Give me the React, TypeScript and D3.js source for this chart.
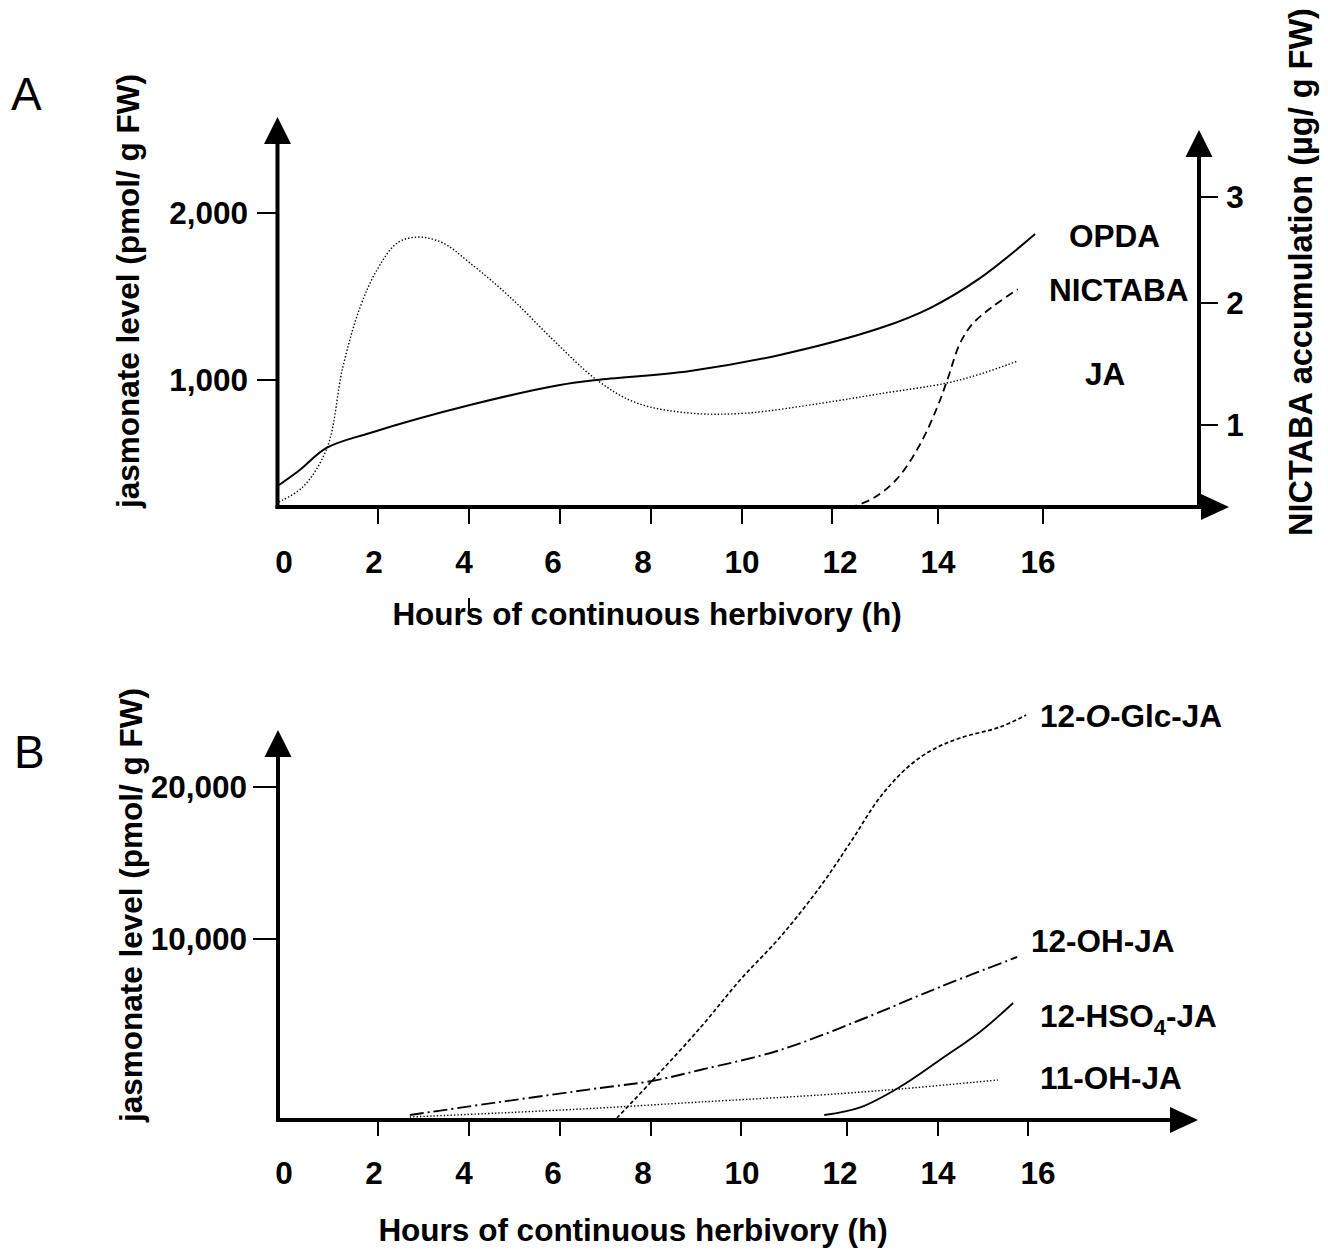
import React from 'react';
import * as d3 from 'd3';

// ---------- data ----------
const hourTicks = [2, 4, 6, 8, 10, 12, 14, 16];
const hourLabels = [0, 2, 4, 6, 8, 10, 12, 14, 16];

const aLeftTicks = [1000, 2000];
const aRightTicks = [1, 2, 3];
const bLeftTicks = [10000, 20000];

// Panel A (left axis, pmol/g FW)
const opdaHours = [0, 0.42, 0.96, 1.84, 4.02, 6, 6.81, 8.86, 10.84, 12.91, 13.85, 14.8, 15.85];
const opdaValues = [371, 461, 593, 683, 850, 970, 1000, 1054, 1150, 1311, 1431, 1610, 1874];

const jaHours = [0, 0.48, 0.97, 1.29, 1.64, 1.98, 2.42, 2.88, 3.43, 4.02, 4.9, 5.85, 6.81, 7.69, 8.86, 10.1, 11.79, 12.91, 14.17, 14.8, 15.52];
const jaValues = [270, 359, 593, 1078, 1437, 1659, 1820, 1856, 1820, 1701, 1497, 1240, 1000, 862, 802, 802, 862, 918, 982, 1035, 1114];

// Panel A (right axis, µg/g FW)
const nictabaHours = [12.33, 12.78, 13.23, 13.66, 13.98, 14.17, 14.42, 14.66, 15.04, 15.52];
const nictabaValues = [0.32, 0.4, 0.56, 0.84, 1.14, 1.36, 1.67, 1.83, 1.97, 2.13];

// Panel B (pmol/g FW)
const glcHours = [7.25, 8.02, 9.09, 9.98, 10.74, 11.49, 12.11, 12.73, 13.34, 13.87, 14.49, 15.38, 15.96];
const glcValues = [110, 2155, 5083, 7735, 10132, 13421, 16513, 19342, 21316, 22434, 23224, 23947, 24737];

const ohHours = [2.7, 4.68, 6.88, 8.02, 9.09, 10.74, 12.29, 14.04, 15.76];
const ohValues = [276, 994, 1768, 2155, 2762, 3867, 5525, 7348, 9006];

const oh11Hours = [2.7, 4.68, 6.88, 9.09, 11.49, 13.16, 15.33];
const oh11Values = [166, 387, 663, 994, 1381, 1713, 2210];

const hso4Hours = [11.57, 12.29, 13.16, 14.04, 14.93, 15.67];
const hso4Values = [276, 700, 1823, 3315, 4862, 6464];

// ---------- layout ----------
const FONT = "'Liberation Sans', Arial, Helvetica, sans-serif";
const FS = 31.5;

const xA = d3.scaleLinear().domain(hourLabels).range([279, 378, 469, 560, 651, 742, 832, 938, 1043]);
const xB = d3.scaleLinear().domain(hourLabels).range([279, 378, 469, 560, 651, 741, 847, 938, 1028]);
const xLabel = d3.scaleLinear().domain(hourLabels).range([284, 374, 464, 553, 643, 742, 840, 938, 1038]);

const yA = d3.scaleLinear().domain([1000, 2000]).range([380, 213]);
const yAR = d3.scaleLinear().domain([1, 2, 3]).range([425, 303, 197]);
const yB = d3.scaleLinear().domain([0, 10000, 20000]).range([1120, 939, 787]);

type Pt = [number, number];
const pts = (hs: number[], vs: number[]): Pt[] => hs.map((h, i) => [h, vs[i]]);

function pathFor(hs: number[], vs: number[], xs: any, ys: any) {
  const line = d3
    .line<Pt>()
    .x((d) => xs(d[0]))
    .y((d) => ys(d[1]))
    .curve(d3.curveCatmullRom.alpha(0.5));
  return line(pts(hs, vs)) || '';
}

const Arrow = ({ tip, dir }: { tip: Pt; dir: 'up' | 'right' }) => {
  const [x, y] = tip;
  const p =
    dir === 'up'
      ? `${x},${y} ${x - 13.5},${y + 27} ${x + 13.5},${y + 27}`
      : `${x},${y} ${x - 28},${y - 13} ${x - 28},${y + 13}`;
  return <polygon points={p} fill="#000" />;
};

export default function App() {
  const txt = { fontFamily: FONT, fontWeight: 700 as const, fontSize: FS, fill: '#000' };
  return (
    <svg
      width={1328}
      height={1255}
      style={{ position: 'absolute', left: 0, top: 0, background: '#fff' }}
      xmlns="http://www.w3.org/2000/svg"
    >
      <rect x={0} y={0} width={1328} height={1255} fill="#fff" />

      {/* ================= Panel A ================= */}
      <text x={11} y={110} fontFamily={FONT} fontSize={46} fill="#000">A</text>

      <line x1={277.5} y1={509} x2={277.5} y2={140} stroke="#000" strokeWidth={4} />
      <Arrow tip={[277.5, 117]} dir="up" />
      <line x1={1199} y1={509} x2={1199} y2={152} stroke="#000" strokeWidth={4} />
      <Arrow tip={[1199, 130]} dir="up" />
      <line x1={275.5} y1={507} x2={1204} y2={507} stroke="#000" strokeWidth={4} />
      <Arrow tip={[1229, 507]} dir="right" />

      {hourTicks.map((h) => (
        <line key={'ta' + h} x1={xA(h)} x2={xA(h)} y1={508} y2={524} stroke="#000" strokeWidth={2} />
      ))}
      {hourLabels.map((h) => (
        <text key={'la' + h} x={xLabel(h)} y={573} textAnchor="middle" {...txt}>{h}</text>
      ))}
      <line x1={469} x2={469} y1={598} y2={613} stroke="#000" strokeWidth={2} />
      <text x={647} y={625} textAnchor="middle" {...txt}>Hours of continuous herbivory (h)</text>

      {aLeftTicks.map((v) => (
        <g key={'al' + v}>
          <line x1={257} x2={276} y1={yA(v)} y2={yA(v)} stroke="#000" strokeWidth={2} />
          <text x={248} y={yA(v) + 11} textAnchor="end" {...txt}>{d3.format(',')(v)}</text>
        </g>
      ))}
      <text transform="translate(139,291) rotate(-90)" textAnchor="middle" {...txt}>
        jasmonate level (pmol/ g FW)
      </text>

      {aRightTicks.map((v) => (
        <g key={'ar' + v}>
          <line x1={1200} x2={1218} y1={yAR(v)} y2={yAR(v)} stroke="#000" strokeWidth={2} />
          <text x={1235} y={yAR(v) + 11} textAnchor="middle" {...txt}>{v}</text>
        </g>
      ))}
      <text transform="translate(1312,272) rotate(-90)" textAnchor="middle" {...txt} fontSize={32.5}>
        NICTABA accumulation (µg/ g FW)
      </text>

      <path d={pathFor(opdaHours, opdaValues, xA, yA)} fill="none" stroke="#000" strokeWidth={2} />
      <path d={pathFor(jaHours, jaValues, xA, yA)} fill="none" stroke="#000" strokeWidth={1.4} strokeDasharray="1.4 2" />
      <path d={pathFor(nictabaHours, nictabaValues, xA, yAR)} fill="none" stroke="#000" strokeWidth={1.8} strokeDasharray="8 5" />

      <text x={1069} y={247} {...txt}>OPDA</text>
      <text x={1049} y={301} {...txt}>NICTABA</text>
      <text x={1085} y={385} {...txt}>JA</text>

      {/* ================= Panel B ================= */}
      <text x={14} y={768} fontFamily={FONT} fontSize={46} fill="#000">B</text>

      <line x1={278} y1={1122} x2={278} y2={753} stroke="#000" strokeWidth={4} />
      <Arrow tip={[278, 730]} dir="up" />
      <line x1={276} y1={1120} x2={1174} y2={1120} stroke="#000" strokeWidth={4} />
      <Arrow tip={[1198, 1120]} dir="right" />

      {hourTicks.map((h) => (
        <line key={'tb' + h} x1={xB(h)} x2={xB(h)} y1={1121} y2={1136} stroke="#000" strokeWidth={2} />
      ))}
      {hourLabels.map((h) => (
        <text key={'lb' + h} x={xLabel(h)} y={1184} textAnchor="middle" {...txt}>{h}</text>
      ))}
      <text x={633} y={1241} textAnchor="middle" {...txt}>Hours of continuous herbivory (h)</text>

      {bLeftTicks.map((v) => (
        <g key={'bl' + v}>
          <line x1={253} x2={276} y1={yB(v)} y2={yB(v)} stroke="#000" strokeWidth={2} />
          <text x={247} y={yB(v) + 11} textAnchor="end" {...txt}>{d3.format(',')(v)}</text>
        </g>
      ))}
      <text transform="translate(142,905) rotate(-90)" textAnchor="middle" {...txt}>
        jasmonate level (pmol/ g FW)
      </text>

      <path d={pathFor(glcHours, glcValues, xB, yB)} fill="none" stroke="#000" strokeWidth={1.7} strokeDasharray="4 2.5" />
      <path d={pathFor(ohHours, ohValues, xB, yB)} fill="none" stroke="#000" strokeWidth={1.9} strokeDasharray="14 4 2 4" />
      <path d={pathFor(oh11Hours, oh11Values, xB, yB)} fill="none" stroke="#000" strokeWidth={1.4} strokeDasharray="1.4 2" />
      <path d={pathFor(hso4Hours, hso4Values, xB, yB)} fill="none" stroke="#000" strokeWidth={1.8} />

      <text x={1040} y={727} {...txt}>
        12-<tspan fontStyle="italic">O</tspan>-Glc-JA
      </text>
      <text x={1031} y={952} {...txt}>12-OH-JA</text>
      <text x={1040} y={1027} {...txt}>
        12-HSO<tspan dy={8} fontSize={22}>4</tspan>
        <tspan dy={-8}>-JA</tspan>
      </text>
      <text x={1040} y={1089} {...txt}>11-OH-JA</text>
    </svg>
  );
}
